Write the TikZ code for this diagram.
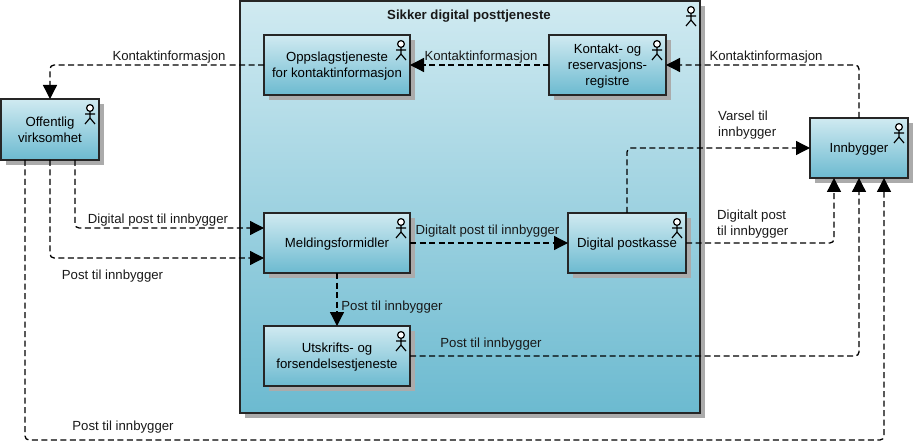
\documentclass[tikz,border=0pt]{standalone}
\usepackage{fontspec}
\setmainfont{Liberation Sans}
\usetikzlibrary{arrows.meta,shadows}
\definecolor{boxtop}{RGB}{208,234,241}
\definecolor{boxbottom}{RGB}{108,186,208}
\tikzset{
	actorbox/.style={draw=black!85, line width=1.3pt, top color=boxtop, bottom color=boxbottom, outer sep=0pt, align=center, inner sep=0pt, text depth=0pt,
		drop shadow={shadow xshift=5pt, shadow yshift=-5pt, fill=black!33, opacity=1}},
	flow/.style={line width=1.3pt, dash pattern=on 6pt off 3.5pt, rounded corners=4pt, -{Triangle[length=14pt,width=14pt]}},
	lbl/.style={inner sep=0pt, align=left, text=black!90},
	actoricon/.pic={
		\draw[line width=1.2pt, fill=white] (0,0) circle (3.4pt);
		\draw[line width=1.2pt] (0,-3.4pt) -- (0,-10pt) (-5pt,-6pt) -- (5pt,-6pt) (-5pt,-16pt) -- (0,-10pt) -- (5pt,-16pt);
	}
}
\begin{document}
\begin{tikzpicture}[x=1pt, y=-1pt, font=\fontsize{13.2}{16}\selectfont]
	
	\useasboundingbox (0,0) rectangle (914,441);
	
	% outer box
	\node[actorbox, minimum width=460pt, minimum height=412pt] (tjeneste) at (470,207) {};
	\node[lbl, font=\fontsize{13.2}{16}\selectfont\bfseries] (tittel) at (469,16) {Sikker digital posttjeneste};
	
	% inner boxes
	\node[actorbox, minimum width=146pt, minimum height=60pt] (oppslag) at (337,65) {Oppslagstjeneste\\for kontaktinformasjon};
	\node[actorbox, minimum width=117pt, minimum height=60pt] (kontakt) at (607.5,65) {Kontakt- og\\reservasjons-\\registre};
	\node[actorbox, minimum width=146pt, minimum height=60pt] (melding) at (337,243) {Meldingsformidler};
	\node[actorbox, minimum width=118pt, minimum height=60pt] (postkasse) at (627,243) {Digital postkasse};
	\node[actorbox, minimum width=146pt, minimum height=60pt] (utskrift) at (337,356) {Utskrifts- og\\forsendelsestjeneste};
	
	% outside boxes
	\node[actorbox, minimum width=98pt, minimum height=61pt] (offentlig) at (50,129.5) {Offentlig\\virksomhet};
	\node[actorbox, minimum width=98pt, minimum height=60pt] (innbygger) at (859,148) {Innbygger};
	
	% actors
	\foreach \n in {tjeneste,oppslag,kontakt,melding,postkasse,utskrift,offentlig,innbygger}
		\pic at ([xshift=-9pt,yshift=-9pt]\n.north east) {actoricon};
	
	% flows
	\draw[flow] (oppslag.west) -| (offentlig.north);
	\draw[flow] (kontakt.west) -- (oppslag.east);
	\draw[flow] (innbygger.north) |- (kontakt.east);
	\draw[flow] (postkasse.north) |- (innbygger.west);
	\draw[flow] ([xshift=25pt]offentlig.south) |- ([yshift=15pt]melding.west);
	\draw[flow] (offentlig.south) |- ([yshift=-15pt]melding.west);
	\draw[flow] ([xshift=-25pt]offentlig.south) -- ++(0,280) -- ++(859,0) -- ([xshift=25pt]innbygger.south);
	\draw[flow] (melding.east) -- (postkasse.west);
	\draw[flow] (melding.south) -- (utskrift.north);
	\draw[flow] (postkasse.east) -| ([xshift=-25pt]innbygger.south);
	\draw[flow] (utskrift.east) -| (innbygger.south);
	
	% labels
	\node[lbl] (l1) at (169,57) {Kontaktinformasjon};
	\node[lbl] (l2) at (481,57) {Kontaktinformasjon};
	\node[lbl] (l3) at (766,57) {Kontaktinformasjon};
	\node[lbl, anchor=west] (l4) at (718,125.5) {Varsel til\\innbygger};
	\node[lbl] (l5) at (158,220.5) {Digital post til innbygger};
	\node[lbl] (l6) at (112.5,276.5) {Post til innbygger};
	\node[lbl] (l7) at (487.5,231.5) {Digitalt post til innbygger};
	\node[lbl] (l8) at (392,307) {Post til innbygger};
	\node[lbl] (l9) at (491,344.5) {Post til innbygger};
	\node[lbl, anchor=west] (l10) at (717,224) {Digitalt post\\til innbygger};
	\node[lbl] (l11) at (123,427) {Post til innbygger};
	
\end{tikzpicture}
\end{document}
